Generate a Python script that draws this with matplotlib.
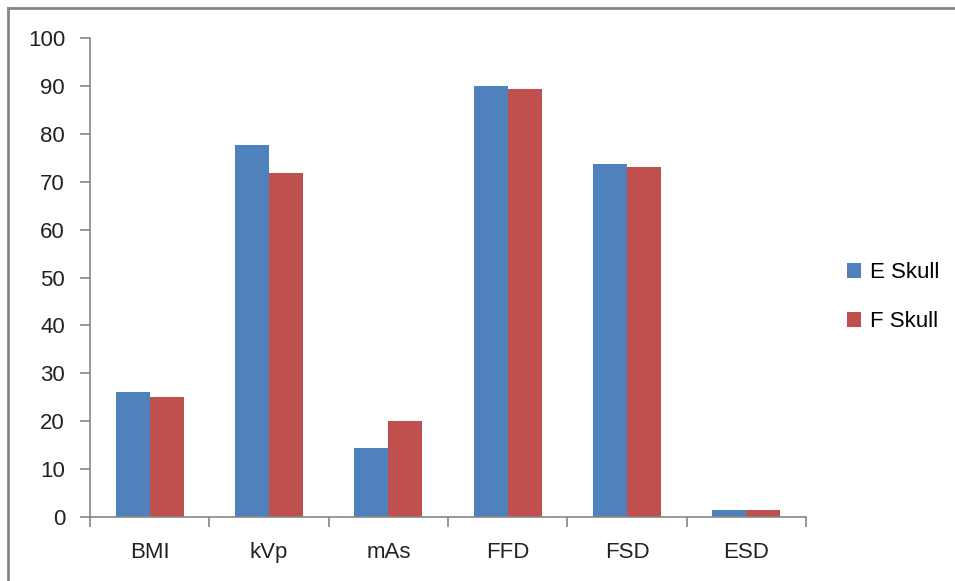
import numpy as np
import matplotlib.pyplot as plt
from matplotlib.lines import Line2D

plt.rcParams['font.family'] = ['Liberation Sans', 'DejaVu Sans']

categories = ["BMI", "kVp", "mAs", "FFD", "FSD", "ESD"]
e_skull = [26.0, 77.7, 14.5, 90.0, 73.6, 1.5]
f_skull = [25.0, 71.8, 20.1, 89.4, 73.1, 1.5]
y_ticks = [0, 10, 20, 30, 40, 50, 60, 70, 80, 90, 100]

blue = "#4F81BD"
red = "#C0504D"
grey = "#868686"

fig = plt.figure(figsize=(9.55, 5.81), dpi=100)
ax = fig.add_axes([90 / 955, 1 - 517 / 581, (806 - 90) / 955, (517 - 38) / 581])

x = np.arange(len(categories))
w = 1 / 3.5
ax.bar(x - w / 2, e_skull, w, color=blue, label="E Skull", edgecolor="none")
ax.bar(x + w / 2, f_skull, w, color=red, label="F Skull", edgecolor="none")

ax.set_xlim(-0.5, len(categories) - 0.5)
ax.set_ylim(0, 100)
ax.set_yticks(y_ticks)
ax.set_yticklabels([str(v) for v in y_ticks], fontsize=16, color="#222222")

# category labels in the middle, ticks on the boundaries
ax.set_xticks(np.arange(len(categories) + 1) - 0.5)
ax.set_xticklabels([])
ax.set_xticks(x, minor=True)
ax.set_xticklabels(categories, minor=True, fontsize=16, color="#222222")
ax.tick_params(axis="x", which="minor", length=0, pad=18)
ax.tick_params(axis="x", which="major", length=7, color=grey, width=1.2)
ax.tick_params(axis="y", length=7, color=grey, width=1.2, pad=11)

for s in ["top", "right"]:
    ax.spines[s].set_visible(False)
for s in ["left", "bottom"]:
    ax.spines[s].set_color(grey)
    ax.spines[s].set_linewidth(1.2)

fig.legend(loc="center left", bbox_to_anchor=(847 / 955, 1 - 297 / 581),
           frameon=False, fontsize=16, handlelength=0.65, handleheight=0.65,
           handletextpad=0.4, labelspacing=1.25, borderpad=0, borderaxespad=0)

# frame lines on top and left edges
fig.lines.append(Line2D([8 / 955, 8 / 955], [0, 1 - 8 / 581], transform=fig.transFigure,
                        color=grey, linewidth=2))
fig.lines.append(Line2D([8 / 955, 1], [1 - 8 / 581, 1 - 8 / 581], transform=fig.transFigure,
                        color=grey, linewidth=2))

fig.savefig("out.png", dpi=100)
